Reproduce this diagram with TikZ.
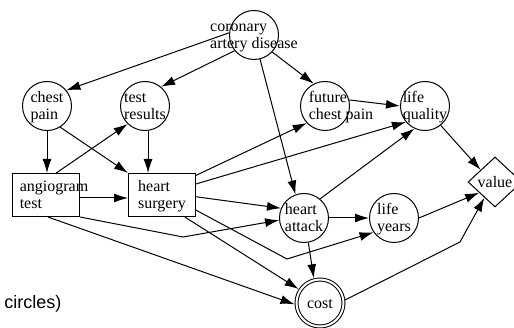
\documentclass[tikz,border=0pt]{standalone}
\usepackage{fontspec}
\setmainfont{Liberation Serif}
\newfontfamily\notefont{Liberation Sans}
\usetikzlibrary{arrows.meta,shapes.geometric}
\tikzstyle{arr}=[-{Latex[length=14pt,width=9pt]}]
\tikzstyle{chance}=[circle,draw,minimum size=49pt,inner sep=0pt]
\tikzstyle{decision}=[rectangle,draw,minimum width=67pt,minimum height=43pt,inner sep=0pt]
\tikzstyle{utility}=[diamond,draw,minimum width=54pt,minimum height=50pt,inner sep=0pt]
\tikzstyle{determ}=[chance,double,double distance=2pt,minimum size=47pt,outer sep=2pt]
% label of zero size, so the shape keeps its own size
\newcommand{\lbl}[2][0pt]{\makebox[0pt]{\hspace*{#1}\smash{\raisebox{-6pt}{\begin{tabular}{@{}l@{}}#2\end{tabular}}}}}

\begin{document}
\begin{tikzpicture}[x=1pt,y=-1pt,line width=1pt,font=\fontsize{16}{17}\selectfont]
  \useasboundingbox (0,0) rectangle (514,328);

  \foreach \n/\x/\y/\t in {cad/254/35/{coronary\\artery disease}, chest/47/106/{chest\\pain},
      test/145/106/{test\\results}, quality/425/106/{life\\quality},
      attack/304/218/{heart\\attack}, years/394/218/{life\\years}}
    \node[chance] (\n) at (\x,\y) {\lbl{\t}};
  \node[chance] (future) at (325,106) {\lbl[32pt]{future\\chest pain}};
  \node[determ] (cost) at (320,303) {\lbl{cost}};
  \node[utility] (value) at (495,182) {\lbl{value}};
  \node[decision] (angio) at (46,195) {\lbl[16pt]{angiogram\\test}};
  \node[decision] (surgery) at (162,195) {\lbl{heart\\surgery}};

  \node[anchor=base west,inner sep=0pt,font=\notefont\fontsize{18}{20}\selectfont] (note) at (4,309) {circles)};

  \foreach \i/\j in {cad.175/chest.39, cad.219/test.50, cad.317/future.117, cad.284/attack.110,
      chest.302/surgery.north west, angio.65/test.226, future.14/quality.180,
      surgery.30/future.223, surgery.18/quality.220, surgery.357/attack.157,
      surgery.316/cost.147, angio.275/cost.183, attack.280/cost.104, attack.0/years.180,
      attack.50/quality.245, quality.309/value.140, years.0/value.214}
    \draw[arr] (\i) -- (\j);

  \draw[arr] (chest.south) -- (chest.south |- angio.north);
  \draw[arr] (test.277) -- (test.277 |- surgery.north);
  \draw[arr] ([yshift=-3pt]angio.east) -- ([yshift=-3pt]surgery.west);

  % bent edges
  \coordinate (b1) at (183,237);
  \coordinate (b2) at (287,259);
  \coordinate (b3) at (460,242);
  \draw[arr] (angio.south east) -- (b1) -- (attack.185);
  \draw[arr] (surgery.336) -- (b2) -- (years.215);
  \draw[arr] (cost.7) -- (b3) -- (value.236);
\end{tikzpicture}
\end{document}
